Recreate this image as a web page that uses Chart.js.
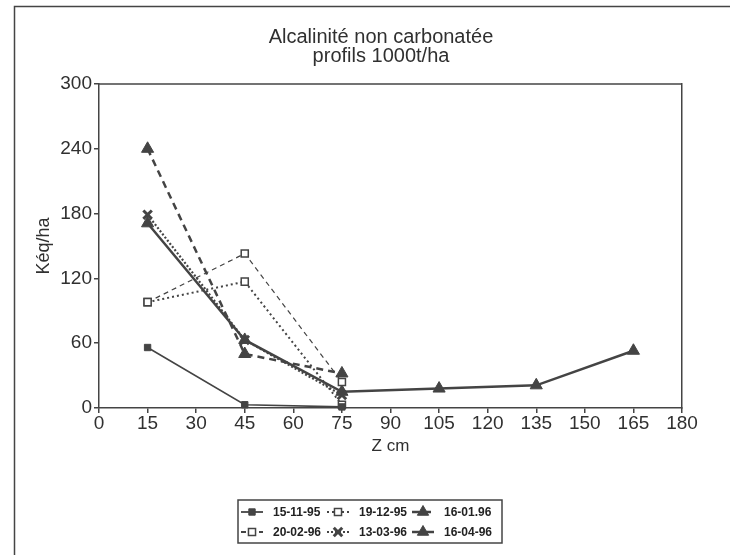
<!DOCTYPE html>
<html><head><meta charset="utf-8">
<script src="https://cdn.jsdelivr.net/npm/chart.js@4.4.1/dist/chart.umd.min.js"></script>
<style>html,body{margin:0;padding:0;background:#fff}#wrap{width:730px;height:555px;position:relative}</style>
</head><body><div id="wrap"><canvas id="c" width="730" height="555"></canvas></div>
<script>
// ---- data ----
const depthsShort = [15, 45, 75];
const depthsLong = [15, 45, 75, 105, 135, 165];
const seriesNames = ['15-11-95', '19-12-95', '16-01.96', '20-02-96', '13-03-96', '16-04-96'];
const v_15_11_95 = [56, 3, 1];
const v_19_12_95 = [98, 117, 3];
const v_16_01_96 = [240, 50, 32];
const v_20_02_96 = [98, 143, 24];
const v_13_03_96 = [179, 63, 12];
const v_16_04_96 = [171, 63, 15, 18, 21, 53];
const xTickValues = [0, 15, 30, 45, 60, 75, 90, 105, 120, 135, 150, 165, 180];
const yTickValues = [0, 60, 120, 180, 240, 300];
const titleLines = ['Alcalinité non carbonatée', 'profils 1000t/ha'];
const xTitle = 'Z cm';
const yTitle = 'Kéq/ha';

const INK = '#444444';
const TXT = '#303030';
const FONT = "'Liberation Sans', Arial, sans-serif";

const pts = (xs, ys) => ys.map((y, i) => ({x: xs[i], y}));

const datasets = [
  {label: seriesNames[0], data: pts(depthsShort, v_15_11_95), borderWidth: 1.6, borderDash: [],
   pointStyle: 'rect', pointRadius: 4.5, pointBackgroundColor: INK, pointBorderWidth: 1},
  {label: seriesNames[1], data: pts(depthsShort, v_19_12_95), borderWidth: 2, borderDash: [2, 3],
   pointStyle: 'rect', pointRadius: 5, pointBackgroundColor: '#fff', pointBorderWidth: 1.5},
  {label: seriesNames[2], data: pts(depthsShort, v_16_01_96), borderWidth: 2.5, borderDash: [7, 5],
   pointStyle: 'triangle', pointRadius: 7, pointBackgroundColor: INK, pointBorderWidth: 1},
  {label: seriesNames[3], data: pts(depthsShort, v_20_02_96), borderWidth: 1.2, borderDash: [5, 4],
   pointStyle: 'rect', pointRadius: 5, pointBackgroundColor: '#fff', pointBorderWidth: 1.5},
  {label: seriesNames[4], data: pts(depthsShort, v_13_03_96), borderWidth: 2.2, borderDash: [2, 2],
   pointStyle: 'crossRot', pointRadius: 6, pointBackgroundColor: INK, pointBorderWidth: 3},
  {label: seriesNames[5], data: pts(depthsLong, v_16_04_96), borderWidth: 2.5, borderDash: [],
   pointStyle: 'triangle', pointRadius: 7, pointBackgroundColor: INK, pointBorderWidth: 1}
].map(d => Object.assign({borderColor: INK, pointBorderColor: INK, fill: false, tension: 0, clip: false,
  pointHoverRadius: d.pointRadius}, d));

const framePlugin = {
  id: 'frame',
  beforeDraw(chart) {
    const ctx = chart.ctx;
    ctx.save();
    ctx.fillStyle = '#fff';
    ctx.fillRect(0, 0, chart.width, chart.height);
    ctx.strokeStyle = INK;
    ctx.lineWidth = 1.5;
    ctx.beginPath();
    ctx.moveTo(14.5, 555); ctx.lineTo(14.5, 6.5); ctx.lineTo(730, 6.5);
    ctx.stroke();
    ctx.restore();
  },
  afterDraw(chart) {
    const ctx = chart.ctx, a = chart.chartArea;
    ctx.save();
    ctx.strokeStyle = INK;
    ctx.lineWidth = 1.5;
    ctx.beginPath();
    ctx.moveTo(a.left, a.top); ctx.lineTo(a.right, a.top);
    ctx.stroke();
    ctx.restore();
  }
};

const legendPlugin = {
  id: 'boxLegend',
  afterDraw(chart) {
    const ctx = chart.ctx;
    const box = {l: 238, t: 500, r: 502, b: 543};
    const colX = [241, 327, 412];
    const rowY = [512, 532];
    ctx.save();
    ctx.strokeStyle = INK;
    ctx.lineWidth = 1.5;
    ctx.strokeRect(box.l, box.t, box.r - box.l, box.b - box.t);
    chart.data.datasets.forEach((ds, i) => {
      const x = colX[i % 3], y = rowY[Math.floor(i / 3)];
      ctx.save();
      ctx.strokeStyle = ds.borderColor;
      ctx.lineWidth = Math.max(Math.min(ds.borderWidth, 2.5), 1.8);
      ctx.setLineDash(ds.borderDash || []);
      ctx.beginPath();
      ctx.moveTo(x, y); ctx.lineTo(x + 22, y);
      ctx.stroke();
      ctx.setLineDash([]);
      ctx.fillStyle = ds.pointBackgroundColor;
      ctx.strokeStyle = ds.pointBorderColor;
      ctx.lineWidth = ds.pointBorderWidth;
      Chart.helpers.drawPoint(ctx, {pointStyle: ds.pointStyle, radius: Math.min(ds.pointRadius, 6.5), rotation: 0, borderWidth: ds.pointBorderWidth}, x + 11, y);
      ctx.restore();
      ctx.fillStyle = '#222';
      ctx.font = "bold 12px " + FONT;
      ctx.textBaseline = 'middle';
      ctx.textAlign = 'left';
      ctx.fillText(ds.label, x + 32, y + 1);
    });
    ctx.restore();
  }
};

new Chart(document.getElementById('c'), {
  type: 'line',
  data: {datasets},
  plugins: [framePlugin, legendPlugin],
  options: {
    responsive: false,
    animation: false,
    devicePixelRatio: 1,
    layout: {padding: {left: 32, right: 0, top: 0, bottom: 96}},
    plugins: {
      legend: {display: false},
      tooltip: {enabled: false},
      title: {
        display: true, text: titleLines, color: TXT,
        font: {family: FONT, size: 20, weight: 'normal', lineHeight: 0.95},
        padding: {top: 28, bottom: 18}
      }
    },
    scales: {
      x: {
        type: 'linear', position: 'bottom', min: 0, max: 180,
        afterBuildTicks: s => { s.ticks = xTickValues.map(v => ({value: v})); },
        afterFit: s => { s.height = 51; },
        ticks: {color: TXT, font: {family: FONT, size: 19, lineHeight: 1.0}, padding: 1, maxRotation: 0, autoSkip: false},
        grid: {display: true, drawOnChartArea: false, drawTicks: true, tickLength: 5, color: INK, lineWidth: 1.5},
        border: {display: true, color: INK, width: 1.5},
        title: {display: true, text: xTitle, color: TXT, font: {family: FONT, size: 17, lineHeight: 1.05}, padding: {top: 0, bottom: 4}}
      },
      y: {
        type: 'linear', position: 'left', min: 0, max: 300,
        afterBuildTicks: s => { s.ticks = yTickValues.map(v => ({value: v})); },
        afterFit: s => { s.width = 67; },
        ticks: {color: TXT, font: {family: FONT, size: 19, lineHeight: 1.0}, padding: 2},
        grid: {display: true, drawOnChartArea: false, drawTicks: true, tickLength: 5, color: INK, lineWidth: 1.5},
        border: {display: true, color: INK, width: 1.5},
        title: {display: true, text: yTitle, color: TXT, font: {family: FONT, size: 18, lineHeight: 1.2}, padding: {top: 1, bottom: 0}}
      },
      yRight: {
        type: 'linear', position: 'right', min: 0, max: 300,
        afterFit: s => { s.width = 48; },
        ticks: {display: false},
        grid: {display: false},
        border: {display: true, color: INK, width: 1.5}
      }
    }
  }
});
</script>
</body></html>
